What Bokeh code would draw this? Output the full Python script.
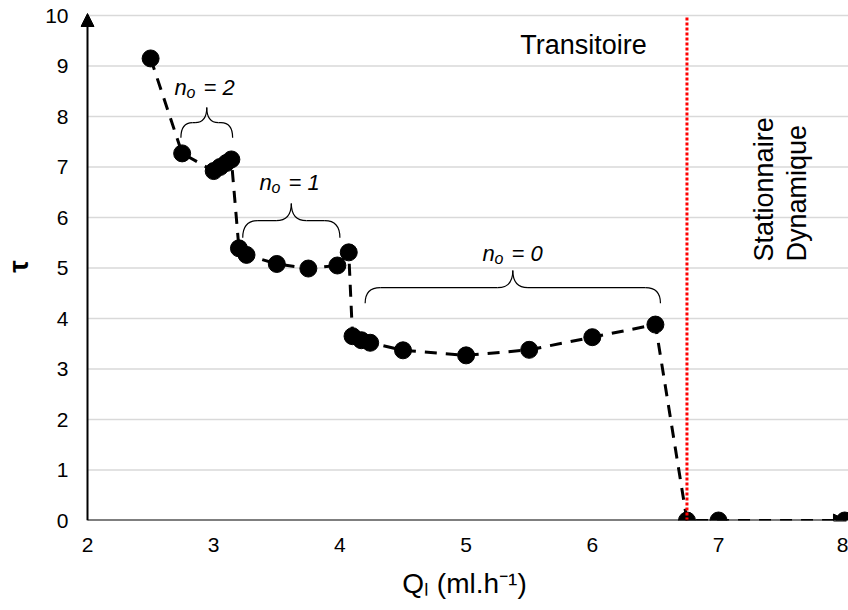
import math
from bokeh.plotting import figure
from bokeh.models import Label, Arrow, NormalHead, FixedTicker, Range1d
from bokeh.embed import file_html
from bokeh.resources import INLINE

# ---------------- data ----------------
q_l = [2.5, 2.75, 3.0, 3.05, 3.1, 3.14, 3.2, 3.26, 3.5, 3.75, 3.98, 4.07,
       4.1, 4.17, 4.24, 4.5, 5.0, 5.5, 6.0, 6.5, 6.75, 7.0, 8.0]
tau = [9.15, 7.27, 6.92, 7.0, 7.08, 7.15, 5.39, 5.26, 5.08, 4.99, 5.05, 5.31,
       3.65, 3.57, 3.52, 3.37, 3.27, 3.38, 3.63, 3.88, 0.0, 0.0, 0.0]

x_ticks = [2, 3, 4, 5, 6, 7, 8]
y_ticks = [0, 1, 2, 3, 4, 5, 6, 7, 8, 9, 10]
transition_q = 6.75

brace_n = ["2", "1", "0"]
brace_x0 = [2.74, 3.23, 4.20]
brace_x1 = [3.15, 4.00, 6.54]
brace_y_end = [7.58, 5.60, 4.30]
brace_y_mid = [7.88, 5.94, 4.61]
brace_y_tip = [8.18, 6.28, 4.95]
brace_label_x = [2.951, 3.624, 5.391]
brace_label_y = [8.57, 6.69, 5.29]

regime_left = "Transitoire"
regime_right = "Stationnaire\nDynamique"
x_title = "Qₗ (ml.h⁻¹)"
y_title = "τ"

FONT = "Liberation Sans"

X_AXIS_AT, Y_AXIS_AT = 2.0, 0.0
X_START, X_END = 1.94453, 8.03
Y_START, Y_END = 0.0, 10.06
Y_TOP = 10.0

p = figure(width=848, height=610, output_backend="svg", toolbar_location=None,
           x_range=Range1d(X_START, X_END), y_range=Range1d(Y_START, Y_END),
           min_border_left=80, min_border_right=0, min_border_top=12,
           min_border_bottom=90)
p.outline_line_color = None
p.background_fill_color = "white"
p.border_fill_color = "white"

# axes (lines drawn as arrows below)
for ax in (p.xaxis[0], p.yaxis[0]):
    ax.axis_line_color = None
    ax.major_tick_out = 0
    ax.major_tick_in = 0
    ax.minor_tick_out = 0
    ax.minor_tick_in = 0
    ax.major_label_text_font = FONT
    ax.major_label_text_font_size = "21px"
    ax.major_label_text_color = "black"
    ax.axis_label_text_font = FONT
    ax.axis_label_text_color = "black"
p.xaxis.ticker = FixedTicker(ticks=x_ticks)
p.yaxis.ticker = FixedTicker(ticks=y_ticks)
p.xaxis.major_label_standoff = 17
p.yaxis.major_label_standoff = 12

p.xaxis.axis_label = x_title
p.xaxis.axis_label_text_font_size = "28px"
p.xaxis.axis_label_text_font_style = "normal"
p.xaxis.axis_label_standoff = 13

p.yaxis.axis_label = y_title
p.yaxis.axis_label_text_font_size = "28px"
p.yaxis.axis_label_text_font_style = "bold"
p.yaxis.axis_label_standoff = 8

p.xgrid.visible = False
p.ygrid.visible = False
grid_y = [t for t in y_ticks if t > 0]
p.segment(x0=[X_AXIS_AT] * len(grid_y), y0=grid_y, x1=[X_END] * len(grid_y), y1=grid_y,
          line_color="#d9d9d9", line_width=1.5)

# data line + markers
p.line(q_l, tau, line_color="black", line_width=3, line_dash="12 9")
p.scatter(q_l, tau, marker="circle", size=17, fill_color="black", line_color="black")

# transition line
p.segment(x0=[transition_q], y0=[Y_START], x1=[transition_q], y1=[Y_TOP],
          line_color="#ff0000", line_width=3, line_dash="3 2")

# braces
qx0, qy0, qx1, qy1, qcx, qcy = [], [], [], [], [], []
sx0, sy0, sx1, sy1 = [], [], [], []
for x0, x1, ye, ym, yt in zip(brace_x0, brace_x1, brace_y_end, brace_y_mid, brace_y_tip):
    xc = (x0 + x1) / 2
    half = (x1 - x0) / 2
    r = min(0.12, half * 0.45)
    qx0.append(x0); qy0.append(ye); qx1.append(x0 + r); qy1.append(ym); qcx.append(x0); qcy.append(ym)
    qx0.append(x1); qy0.append(ye); qx1.append(x1 - r); qy1.append(ym); qcx.append(x1); qcy.append(ym)
    qx0.append(xc - r); qy0.append(ym); qx1.append(xc); qy1.append(yt); qcx.append(xc); qcy.append(ym)
    qx0.append(xc + r); qy0.append(ym); qx1.append(xc); qy1.append(yt); qcx.append(xc); qcy.append(ym)
    if half > 2 * r:
        sx0 += [x0 + r, xc + r]; sy0 += [ym, ym]; sx1 += [xc - r, x1 - r]; sy1 += [ym, ym]
p.quadratic(x0=qx0, y0=qy0, x1=qx1, y1=qy1, cx=qcx, cy=qcy, line_color="black", line_width=1.2)
p.segment(x0=sx0, y0=sy0, x1=sx1, y1=sy1, line_color="black", line_width=1.2)


def lab(x, y, text, size, style="normal", dx=0, dy=0,
        align="left", baseline="alphabetic", angle=0.0, line_height=1.2):
    p.add_layout(Label(x=x, y=y, text=text, x_offset=dx, y_offset=dy,
                       text_font=FONT, text_font_size=size, text_font_style=style,
                       text_color="black", text_align=align, text_baseline=baseline,
                       angle=angle, text_line_height=line_height))


# n_o labels
for n, lx, ly in zip(brace_n, brace_label_x, brace_label_y):
    lab(lx, ly, "n", "22px", style="italic", dx=-33)
    lab(lx, ly, "o", "16px", style="italic", dx=-21, dy=-5)
    lab(lx, ly, "= " + n, "22px", style="italic", dx=-4)

# regime labels
lab(5.93, 9.41, regime_left, "27px", align="center")
lab(7.238, 5.13, regime_right, "27px", align="left", baseline="top",
    angle=math.pi / 2, line_height=1.1)

# axis lines with arrow heads
p.add_layout(Arrow(end=NormalHead(size=13, fill_color="black", line_color="black"),
                   x_start=X_AXIS_AT, y_start=Y_AXIS_AT, x_end=X_AXIS_AT, y_end=10.04,
                   line_width=2, line_color="black"))
p.add_layout(Arrow(end=NormalHead(size=13, fill_color="black", line_color="black"),
                   x_start=X_AXIS_AT, y_start=Y_AXIS_AT, x_end=8.014, y_end=Y_AXIS_AT,
                   line_width=2, line_color="black"))

open("out.html", "w").write(file_html(p, INLINE))
